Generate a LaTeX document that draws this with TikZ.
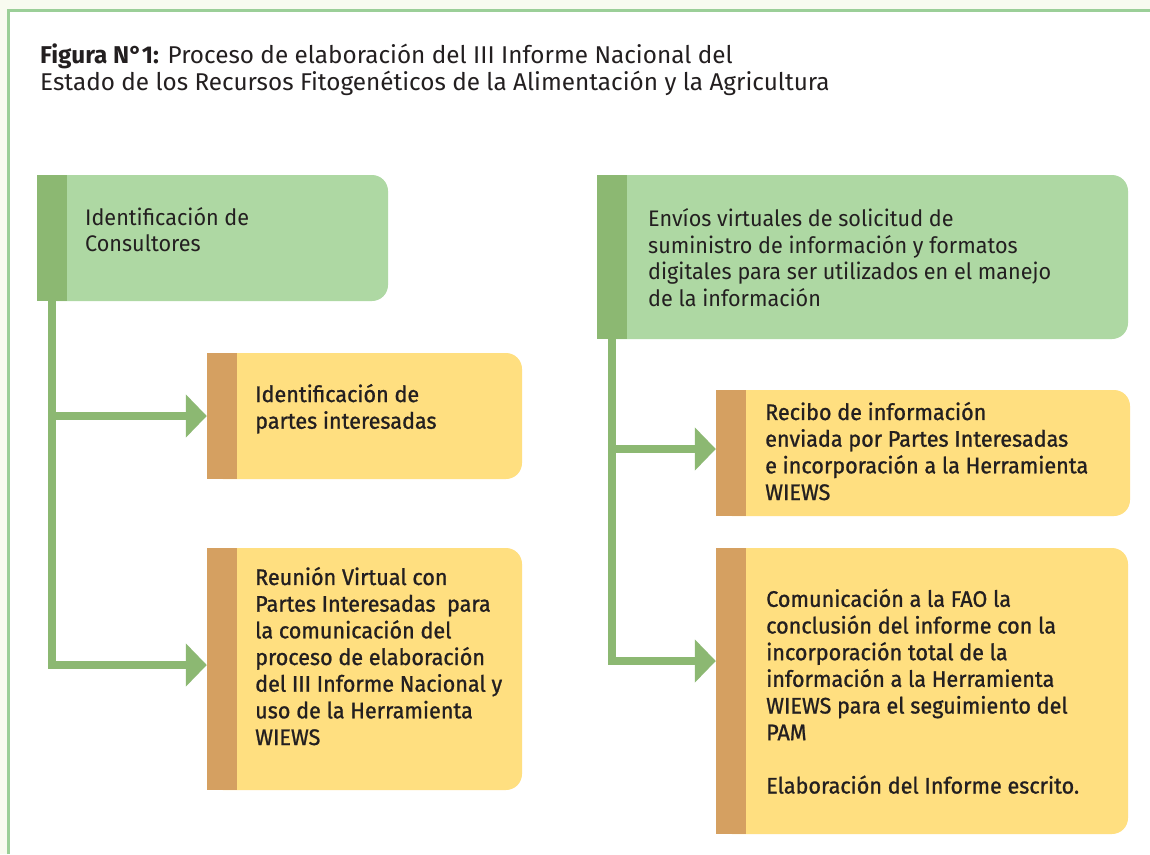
\documentclass[tikz,border=0pt]{standalone}
\usepackage{fontspec}
\setmainfont{Fira Sans}
\newfontfamily\freg{Fira Sans}[FakeStretch=0.96]
\newfontfamily\fsemi{Fira Sans}[FakeBold=1,FakeStretch=0.96]
\usetikzlibrary{arrows.meta}
\definecolor{outerbg}{HTML}{F8FBF0}
\definecolor{frameg}{HTML}{9BCF98}
\definecolor{boxg}{HTML}{AED8A3}
\definecolor{stripg}{HTML}{8CB872}
\definecolor{boxy}{HTML}{FFDF80}
\definecolor{stripy}{HTML}{D5A061}
\definecolor{ink}{HTML}{231F20}
\tikzset{
  gbox/.style={fill=boxg, rounded corners=16pt, inner sep=0pt, draw=none},
  ybox/.style={fill=boxy, rounded corners=16pt, inner sep=0pt, draw=none},
  btext/.style={anchor=base west, inner sep=0pt, align=left, text=ink,
    font=\freg\fontsize{22.5}{26.67}\selectfont},
  ytext/.style={btext, font=\fsemi\fontsize{22.5}{26.67}\selectfont},
  conn/.style={draw=stripg, line width=8pt, line join=miter,
    -{Triangle[length=21pt,width=42pt]}}
}
\begin{document}
\begin{tikzpicture}[x=1pt,y=-1pt]
\useasboundingbox (0,0) rectangle (1150,854);
\fill[outerbg] (0,0) rectangle (1150,854);
\fill[white] (8.5,10) rectangle (1150,854);
\draw[frameg, line width=3pt] (8.5,854) -- (8.5,10) -- (1150,10);

% title (base anchor = baseline of last line)
\node[anchor=base west, inner sep=0pt, align=left, text=ink,
  font=\fontsize{24.3}{26.5}\selectfont] (title) at (40,90)
  {\textbf{Figura N°1:} Proceso de elaboración del III Informe Nacional del\\
   Estado de los Recursos Fitogenéticos de la Alimentación y la Agricultura};

% boxes
\node[gbox, minimum width=351pt, minimum height=126pt] (b1) at (212.5,238) {};
\node[ybox, minimum width=315pt, minimum height=126pt] (b2) at (364.5,416) {};
\node[ybox, minimum width=315pt, minimum height=242pt] (b3) at (364.5,669) {};
\node[gbox, minimum width=531pt, minimum height=164pt] (b4) at (862.5,257) {};
\node[ybox, minimum width=414pt, minimum height=126pt] (b5) at (923,453) {};
\node[ybox, minimum width=412pt, minimum height=286pt] (b6) at (922,691) {};

% strips
\fill[stripg] (b1.north west) rectangle ([xshift=30pt]b1.south west);
\fill[stripy] (b2.north west) rectangle ([xshift=30pt]b2.south west);
\fill[stripy] (b3.north west) rectangle ([xshift=30pt]b3.south west);
\fill[stripg] (b4.north west) rectangle ([xshift=30pt]b4.south west);
\fill[stripy] (b5.north west) rectangle ([xshift=30pt]b5.south west);
\fill[stripy] (b6.north west) rectangle ([xshift=30pt]b6.south west);

% texts (positioned at the baseline of their last line)
\node[btext] (t1) at (85,251.7) {Identificación de\\Consultores};
\node[ytext] (t2) at (255,428.7) {Identificación de\\partes interesadas};
\node[ytext] (t3) at (255,745) {Reunión Virtual con\\Partes Interesadas\ \ para\\la comunicación del\\proceso de elaboración\\del III Informe Nacional y\\uso de la Herramienta\\WIEWS};
\node[btext] (t4) at (648,306.5) {Envíos virtuales de solicitud de\\suministro de información y formatos\\digitales para ser utilizados en el manejo\\de la información};
\node[ytext] (t5) at (765,500) {Recibo de información\\enviada por Partes Interesadas\\e incorporación a la Herramienta\\WIEWS};
\node[ytext] (t6) at (766,793.5) {Comunicación a la FAO la\\conclusión del informe con la\\incorporación total de la\\información a la Herramienta\\WIEWS para el seguimiento del\\PAM\\[26.67pt]Elaboración del Informe escrito.};

% connectors
\draw[conn] ([xshift=15pt]b1.south west) |- (b2.west);
\draw[conn] ([xshift=15pt]b1.south west) |- ([yshift=4pt]b3.west);
\draw[conn] ([xshift=15pt]b4.south west) |- ([yshift=4pt]b5.west);
\draw[conn] ([xshift=15pt]b4.south west) |- ([yshift=30pt]b6.west);
\end{tikzpicture}
\end{document}
